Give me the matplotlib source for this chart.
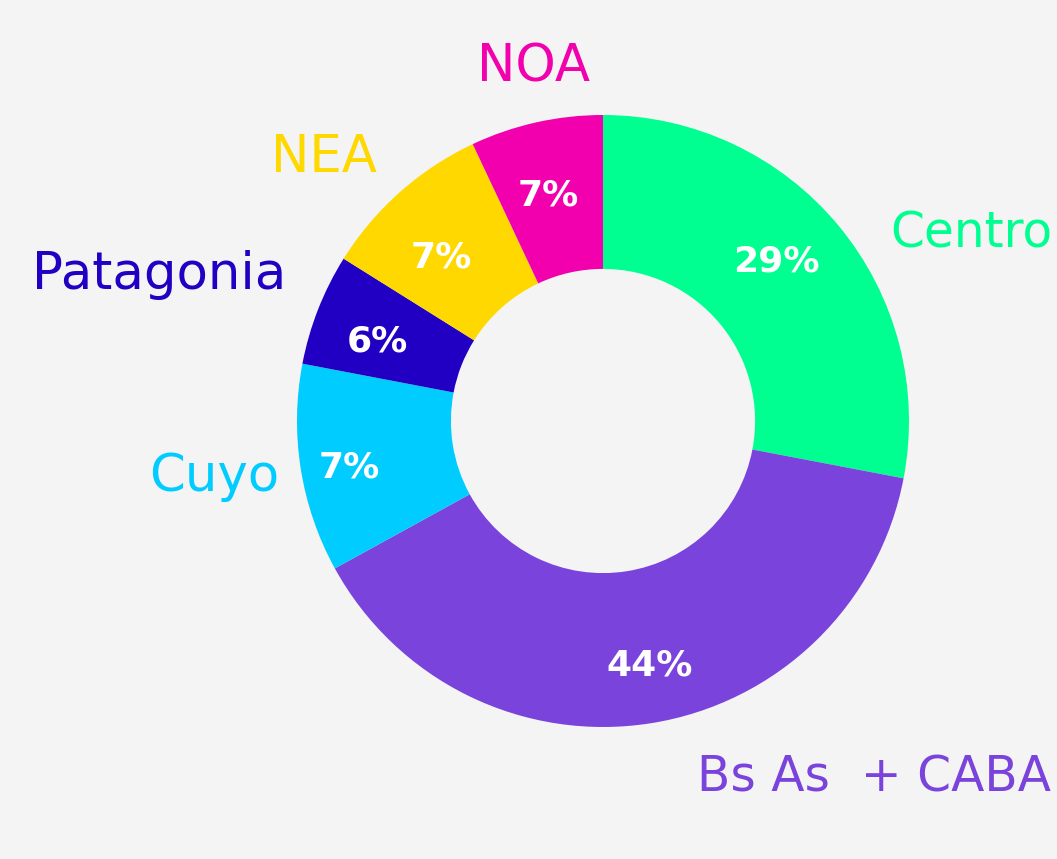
import numpy as np
import matplotlib.pyplot as plt

plt.rcParams["font.family"] = ["DejaVu Sans"]

regions = ["Centro", "Bs As  + CABA", "Cuyo", "Patagonia", "NEA", "NOA"]
sizes = [28.0, 39.0, 11.0, 5.9, 9.1, 7.0]
pct_labels = ["29%", "44%", "7%", "6%", "7%", "7%"]
colors = ["#00FF91", "#7A43DB", "#00CCFF", "#2100C4", "#FFD800", "#F200AE"]

# outer label anchors (pixels in the 1057x859 canvas): x, baseline y, align, size
label_pos = {
    "Centro": (890, 248, "left", 35),
    "Bs As  + CABA": (697, 792, "left", 35),
    "Cuyo": (279, 491, "right", 37),
    "Patagonia": (286, 289, "right", 37),
    "NEA": (324, 172, "center", 37),
    "NOA": (534, 82, "center", 37),
}
# centres of the percentage labels (pixels)
pct_pos = [(776, 258), (650, 663), (349, 464), (377, 338), (441, 255), (548, 192)]

W, H = 1057, 859
cx, cy, R = 603, 421, 306
bg = "#F4F4F4"

fig = plt.figure(figsize=(W / 100, H / 100), dpi=100)
fig.patch.set_facecolor(bg)
ax = fig.add_axes([0, 0, 1, 1])
ax.set_facecolor(bg)

wedges, _ = ax.pie(sizes, colors=colors, startangle=90, counterclock=False,
                   radius=1, wedgeprops=dict(width=0.503, edgecolor="none"))

for (px, py), lab in zip(pct_pos, pct_labels):
    ax.text((px - cx) / R, (cy - py - 13) / R, lab, color="white",
            fontsize=26, fontweight="bold", ha="center", va="baseline")

for name, col in zip(regions, colors):
    px, py, ha, fs = label_pos[name]
    ax.text((px - cx) / R, (cy - py) / R, name, color=col, fontsize=fs,
            ha=ha, va="baseline")

ax.set_xlim(-cx / R, (W - cx) / R)
ax.set_ylim(-(H - cy) / R, cy / R)
ax.set_aspect("auto")
ax.axis("off")

plt.savefig("out.png", dpi=100, facecolor=bg)
